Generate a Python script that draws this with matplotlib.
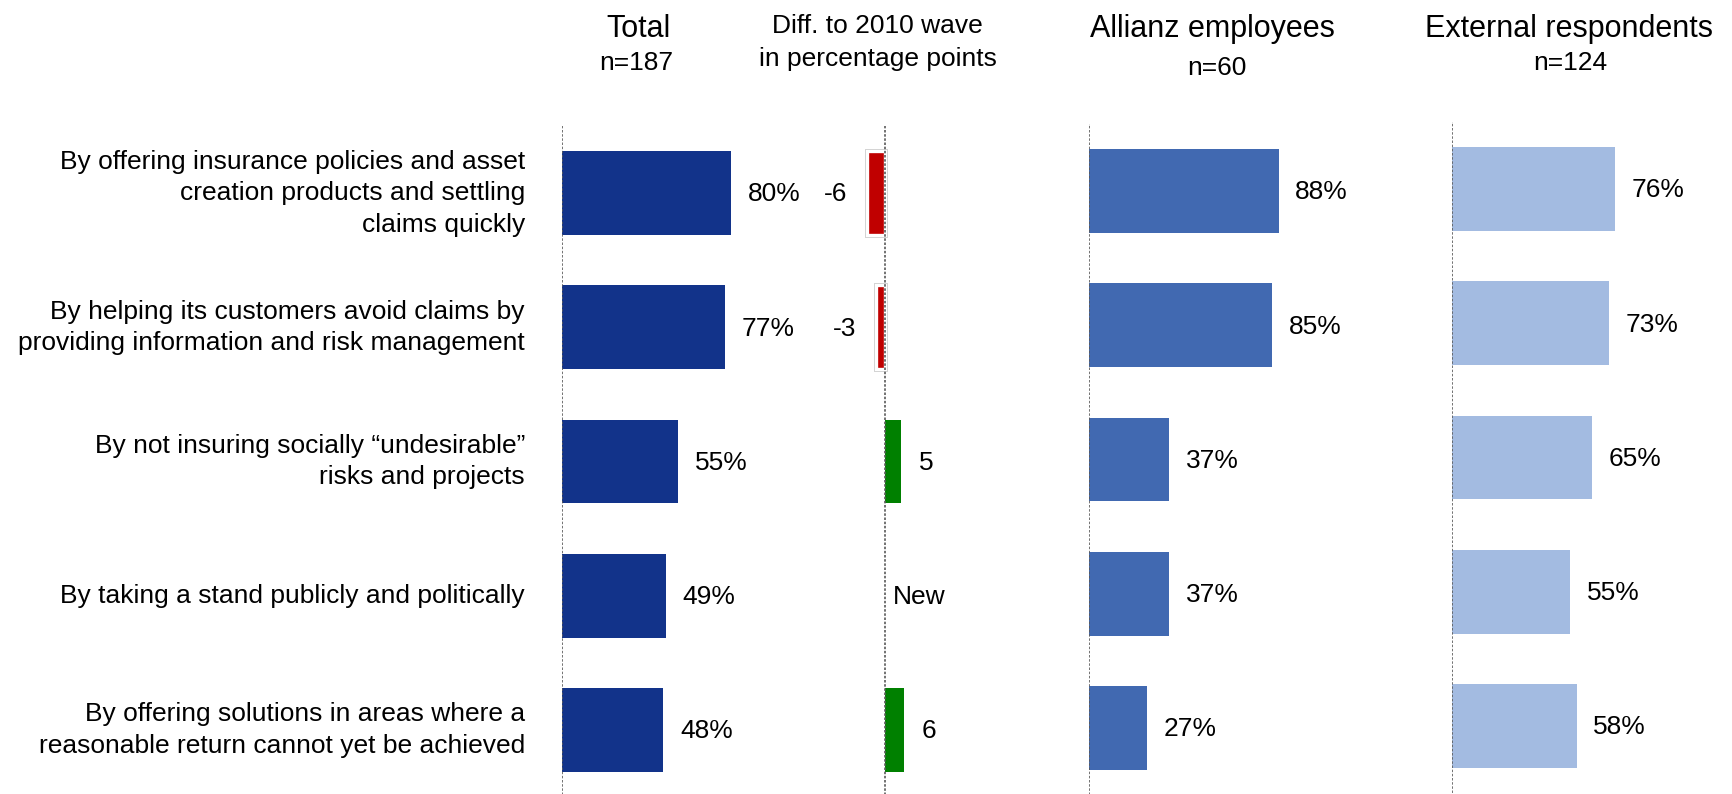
import numpy as np
import matplotlib.pyplot as plt
from matplotlib.transforms import blended_transform_factory

#%%
"""
### Data
"""
categories = [
    'By offering insurance policies and asset\ncreation products and settling\nclaims quickly',
    'By helping its customers avoid claims by\nproviding information and risk management',
    'By not insuring socially \u201cundesirable\u201d\nrisks and projects',
    'By taking a stand publicly and politically',
    'By offering solutions in areas where a\nreasonable return cannot yet be achieved',
]
total_pct = [80, 77, 55, 49, 48]
diff_pts = [-6, -3, 5, np.nan, 6]
diff_labels = ['-6', '-3', '5', 'New', '6']
allianz_pct = [88, 85, 37, 37, 27]
external_pct = [76, 73, 65, 55, 58]

n_total, n_allianz, n_external = 187, 60, 124

#%%
"""
### Style
"""
plt.rcParams['font.family'] = ['Liberation Sans', 'DejaVu Sans']

col_total = '#12338A'
col_allianz = '#4169B1'
col_external = '#A3BBE1'
col_neg = '#C00000'
col_pos = '#008000'
col_axis = '#5a5a5a'

W, H = 1733, 794          # canvas in pixels
ROWS_H = 671              # height of the bar area (5 rows)
BAR_H = 0.625
FS = 19
FS_HEAD = 22

fig = plt.figure(figsize=(W / 100, H / 100), dpi=100)


def panel(left, width, top, xlim):
    # axes placed in pixel units, rows counted from top
    ax = fig.add_axes([left / W, 1 - (top + ROWS_H) / H, width / W, ROWS_H / H])
    ax.set_xlim(xlim)
    ax.set_ylim(4.5, -0.5)
    ax.axis('off')
    ax.axvline(0, color=col_axis, lw=1.2, ls=(0, (1.5, 1)), zorder=3)
    return ax


def pct_bars(ax, values, color):
    rows = np.arange(len(values))
    ax.barh(rows, values, height=BAR_H, color=color, zorder=2)
    for i, v in enumerate(values):
        ax.annotate(f'{v}%', xy=(v, i), xytext=(12, -1), textcoords='offset points',
                    ha='left', va='center', fontsize=FS)


def fig_text(x, y, s, size, **kw):
    fig.text(x / W, 1 - y / H, s, fontsize=size, ha='center', va='baseline', **kw)


#%%
"""
### Total
"""
ax_tot = panel(561.7, 212, 126, (0, 100))
pct_bars(ax_tot, total_pct, col_total)

trans = blended_transform_factory(fig.transFigure, ax_tot.transData)
for i, cat in enumerate(categories):
    ax_tot.text(525 / W, i, cat, transform=trans, ha='right', va='center',
                fontsize=FS, linespacing=1.4)

#%%
"""
### Difference to 2010 wave
"""
ax_diff = panel(885.5 - 31.5, 63, 126, (-10, 10))
for i, v in enumerate(diff_pts):
    if np.isnan(v):
        ax_diff.annotate(diff_labels[i], xy=(0, i), xytext=(5.6, -1),
                         textcoords='offset points', ha='left', va='center', fontsize=FS)
        continue
    if v < 0:
        ax_diff.barh(i, v, height=BAR_H, color=col_neg, edgecolor='#c4c4c4',
                     linewidth=3.4, zorder=2)
        ax_diff.barh(i, v, height=BAR_H, color=col_neg, edgecolor='white',
                     linewidth=2.4, zorder=2)
        ax_diff.annotate(diff_labels[i], xy=(v, i), xytext=(-14, -1),
                         textcoords='offset points', ha='right', va='center', fontsize=FS)
    else:
        ax_diff.barh(i, v, height=BAR_H, color=col_pos, zorder=2)
        ax_diff.annotate(diff_labels[i], xy=(v, i), xytext=(12.5, -1),
                         textcoords='offset points', ha='left', va='center', fontsize=FS)

#%%
"""
### Allianz employees / external respondents
"""
ax_all = panel(1089.3, 215, 124, (0, 100))
pct_bars(ax_all, allianz_pct, col_allianz)

ax_ext = panel(1452, 215, 122, (0, 100))
pct_bars(ax_ext, external_pct, col_external)

#%%
"""
### Column headers
"""
fig_text(638.5, 37, 'Total', FS_HEAD)
fig_text(636.5, 70, f'n={n_total}', FS)
fig_text(877, 33, 'Diff. to 2010 wave', FS)
fig_text(877.5, 66, 'in percentage points', FS)
fig_text(1212.5, 37, 'Allianz employees', FS_HEAD)
fig_text(1216.5, 75, f'n={n_allianz}', FS)
fig_text(1569, 37, 'External respondents', FS_HEAD)
fig_text(1570, 70, f'n={n_external}', FS)

fig.savefig('out.png', dpi=100)
